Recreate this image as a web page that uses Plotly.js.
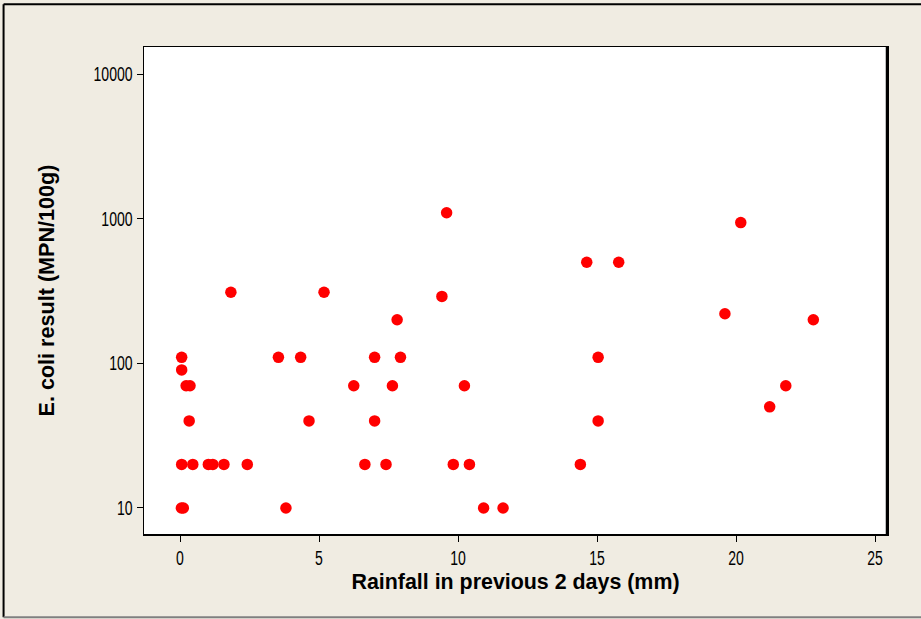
<!DOCTYPE html>
<html>
<head>
<meta charset="utf-8">
<script src="https://cdn.plot.ly/plotly-3.0.1.min.js"></script>
<style>html,body{margin:0;padding:0;background:#F0ECE2;}#chart{width:921px;height:619px;}</style>
</head>
<body>
<div id="chart"></div>
<script>
// Rainfall in previous 2 days (mm)
const rainfall = [
  0.06, 0.06, 0.22, 0.36, 0.33, 0.06, 0.46, 1.02, 1.18, 1.58, 2.42, 0.05, 0.12, 1.83,
  3.54, 3.81, 4.34, 4.64, 5.18,
  9.59, 9.42, 7.81, 7.00, 7.93, 6.25, 7.64, 10.23, 7.00, 6.65, 7.41, 9.83, 10.41, 10.92, 11.62,
  20.17, 14.63, 15.78, 19.60, 22.78, 15.04, 21.79, 21.21, 15.04, 14.40
];
// E. coli result (MPN/100g)
const ecoli = [
  110, 90, 70, 70, 40, 20, 20, 20, 20, 20, 20, 10, 10, 310,
  110, 10, 110, 40, 310,
  1100, 290, 200, 110, 110, 70, 70, 70, 40, 20, 20, 20, 20, 10, 10,
  940, 500, 500, 220, 200, 110, 70, 50, 40, 20
];
const xTicks = [0, 5, 10, 15, 20, 25];
const yTicks = [10, 100, 1000, 10000];
const yTickLabels = ['10', '100', '1000', '10000'];

const trace = {
  x: rainfall, y: ecoli, type: 'scatter', mode: 'markers',
  marker: {color: '#FF0000', size: 11.5, line: {width: 0}},
  hoverinfo: 'x+y'
};

const tickFont = {size: 19.5, family: 'Liberation Sans, Arial, sans-serif', color: '#000'};

const layout = {
  width: 921, height: 619,
  paper_bgcolor: '#F0ECE2', plot_bgcolor: '#FFFFFF',
  margin: {l: 144, r: 34, t: 47, b: 85, pad: 0},
  showlegend: false,
  font: {family: 'Liberation Sans, Arial, sans-serif', color: '#000'},
  xaxis: {
    range: [-1.295, 25.43], tickvals: xTicks, ticks: 'outside', ticklen: 6, tickwidth: 1, tickcolor: '#000',
    showline: true, linecolor: '#000', linewidth: 1.5, mirror: true, showgrid: false, zeroline: false,
    tickfont: tickFont,
    title: {text: 'Rainfall in previous 2 days (mm)', font: {size: 21.4, family: 'Liberation Sans, Arial, sans-serif', weight: 'bold'}, standoff: 6}
  },
  yaxis: {
    type: 'log', range: [0.82, 4.187], tickvals: yTicks, ticktext: yTickLabels,
    ticks: 'outside', ticklen: 6, tickwidth: 1, tickcolor: '#000',
    showline: true, linecolor: '#000', linewidth: 1.5, mirror: true, showgrid: false, zeroline: false,
    tickfont: tickFont,
    title: {text: 'E. coli result (MPN/100g)', font: {size: 21.6, family: 'Liberation Sans, Arial, sans-serif', weight: 'bold'}, standoff: 18}
  },
  shapes: [
    {type: 'line', xref: 'paper', yref: 'paper', x0: -0.189, x1: 1.06, y0: 1.088, y1: 1.088, line: {color: '#000', width: 2}},
    {type: 'line', xref: 'paper', yref: 'paper', x0: -0.189, x1: -0.189, y0: 1.088, y1: -0.171, line: {color: '#000', width: 2}},
    {type: 'line', xref: 'paper', yref: 'paper', x0: -0.189, x1: 1.06, y0: -0.171, y1: -0.171, line: {color: '#808080', width: 2}},
    {type: 'line', xref: 'paper', yref: 'paper', x0: 1.0, x1: 1.0, y0: 0, y1: 1, line: {color: '#000', width: 2.5}}
  ]
};

Plotly.newPlot('chart', [trace], layout, {displayModeBar: false, staticPlot: true}).then(function (gd) {
  // condense tick labels horizontally to mimic the narrow face of the original
  const s = 0.72;
  gd.querySelectorAll('.xtick text, .ytick text').forEach(function (t) {
    const x = parseFloat(t.getAttribute('x')) || 0;
    const tr = t.getAttribute('transform') || '';
    t.setAttribute('transform', tr + ' translate(' + x + ',0) scale(' + s + ',1) translate(' + (-x) + ',0)');
  });
});
</script>
</body>
</html>
